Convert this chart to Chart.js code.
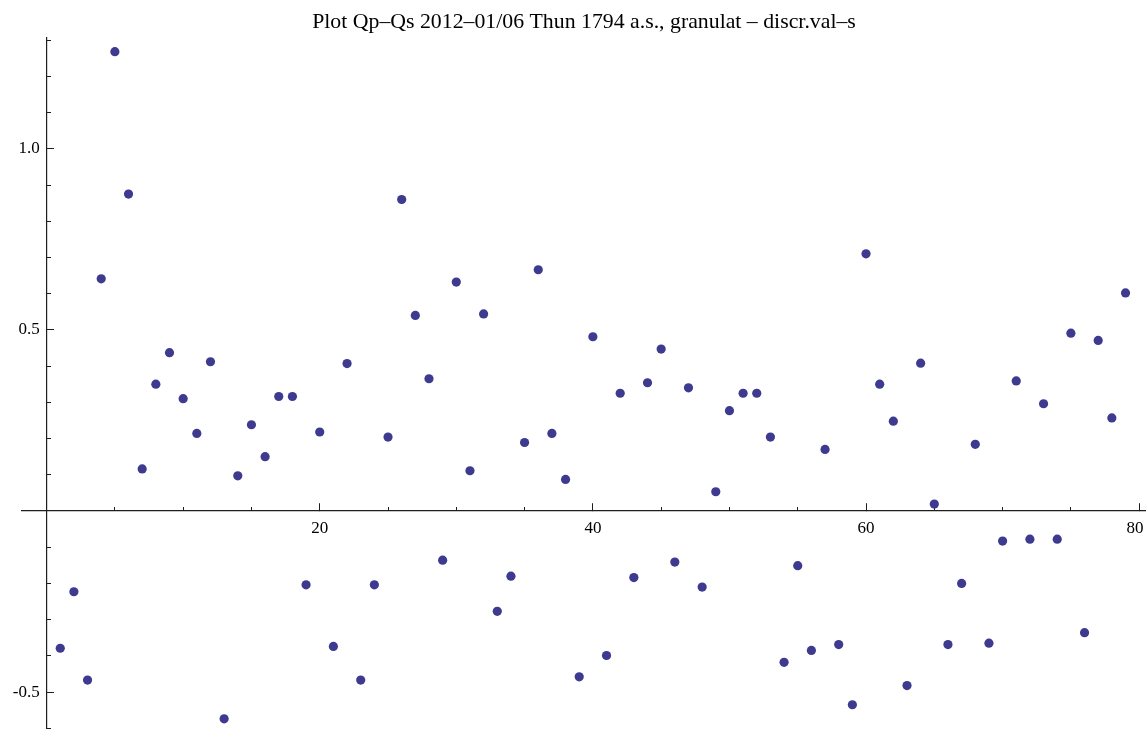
<!DOCTYPE html>
<html>
<head>
<meta charset="utf-8">
<style>
  html, body { margin: 0; padding: 0; background: #fff; }
  #wrap { width: 1146px; height: 729px; }
</style>
<script src="https://cdn.jsdelivr.net/npm/chart.js@4.4.0/dist/chart.umd.min.js"></script>
</head>
<body>
<div id="wrap"><canvas id="plot"></canvas></div>
<script>
const titleText = 'Plot Qp–Qs 2012–01/06 Thun 1794 a.s., granulat – discr.val–s';

// sample index 1..79 and the Qp-Qs value
const indexes = [];
for (let i = 1; i <= 79; i++) indexes.push(i);
const diffs = [
  -0.379, -0.223, -0.467, 0.641, 1.268, 0.875, 0.116, 0.350, 0.437, 0.310,
  0.214, 0.412, -0.574, 0.097, 0.238, 0.150, 0.316, 0.316, -0.204, 0.218,
  -0.374, 0.407, -0.467, -0.204, 0.204, 0.860, 0.540, 0.365, -0.136, 0.632,
  0.111, 0.544, -0.277, -0.180, 0.189, 0.666, 0.214, 0.087, -0.458, 0.481,
  -0.399, 0.325, -0.184, 0.354, 0.447, -0.141, 0.340, -0.210, 0.053, 0.277,
  0.325, 0.325, 0.204, -0.418, -0.151, -0.385, 0.170, -0.369, -0.535, 0.710,
  0.350, 0.248, -0.482, 0.408, 0.019, -0.369, -0.200, 0.184, -0.365, -0.083,
  0.359, -0.078, 0.296, -0.078, 0.491, -0.336, 0.471, 0.257, 0.602
];
const xTickLabels = [20, 40, 60, 80];
const yTickLabels = [-0.5, 0.5, 1.0];

const xRange = [-1.8, 80.5];
const yRange = [-0.602, 1.306];

const points = indexes.map((x, i) => ({ x: x, y: diffs[i] }));

const axisColor = '#1e1e1e';
const tickFont = { family: 'Liberation Serif', size: 17 };

// axes sit at the origin, so they must not push the plot area in
function noPadding(scale) {
  scale.paddingLeft = 0;
  scale.paddingRight = 0;
  scale.paddingTop = 0;
  scale.paddingBottom = 0;
}

function axisX(stepSize, tickLength, labels) {
  return {
    type: 'linear', axis: 'x',
    min: xRange[0], max: xRange[1],
    position: { y: 0 },
    afterFit: noPadding,
    border: { display: labels, color: axisColor, width: 1.2 },
    grid: { drawOnChartArea: false, drawTicks: true, tickLength: tickLength, color: axisColor, lineWidth: 1 },
    ticks: {
      stepSize: stepSize, includeBounds: false, autoSkip: false, maxRotation: 0,
      padding: labels ? 15 : 0, color: '#000', font: tickFont,
      callback: v => {
        if (!labels || !xTickLabels.includes(v)) return '';
        // last label is nudged left so it stays inside the canvas
        return v === xTickLabels[xTickLabels.length - 1] ? String(v) + '\u2002' : String(v);
      }
    }
  };
}

function axisY(stepSize, tickLength, labels) {
  return {
    type: 'linear', axis: 'y',
    min: yRange[0], max: yRange[1],
    position: { x: 0 },
    afterFit: noPadding,
    border: { display: labels, color: axisColor, width: 1.2 },
    grid: { drawOnChartArea: false, drawTicks: true, tickLength: tickLength, color: axisColor, lineWidth: 1 },
    ticks: {
      stepSize: stepSize, includeBounds: false, autoSkip: false,
      padding: 0, color: '#000', font: tickFont,
      callback: v => {
        if (!labels) return '';
        const r = Math.round(v * 10) / 10;
        // thin spaces keep the label clear of the axis line
        return yTickLabels.includes(r) && Math.abs(v - r) < 1e-6 ? r.toFixed(1) + '\u2009\u2009' : '';
      }
    }
  };
}

const ctx = document.getElementById('plot').getContext('2d');
const chart = new Chart(ctx, {
  type: 'scatter',
  data: {
    datasets: [{
      label: 'Qp-Qs',
      data: points,
      xAxisID: 'x',
      yAxisID: 'y',
      backgroundColor: '#3d3a8f',
      borderColor: '#3d3a8f',
      pointRadius: 4.6,
      pointBorderWidth: 0
    }]
  },
  options: {
    responsive: true,
    maintainAspectRatio: false,
    animation: false,
    layout: { autoPadding: false, padding: { left: 22, right: 0, top: 0, bottom: 0 } },
    plugins: {
      legend: { display: false },
      tooltip: { enabled: false },
      title: {
        display: true,
        text: titleText,
        fullSize: false,
        color: '#000',
        font: { family: 'Liberation Serif', size: 21.8, weight: 'normal' },
        padding: { top: 9.5, bottom: 2.3 }
      }
    },
    scales: {
      xMinor: axisX(5, -4, false),
      yMinor: axisY(0.1, -4, false),
      x: axisX(20, -8, true),
      y: axisY(0.5, -8, true)
    }
  }
});
</script>
</body>
</html>
